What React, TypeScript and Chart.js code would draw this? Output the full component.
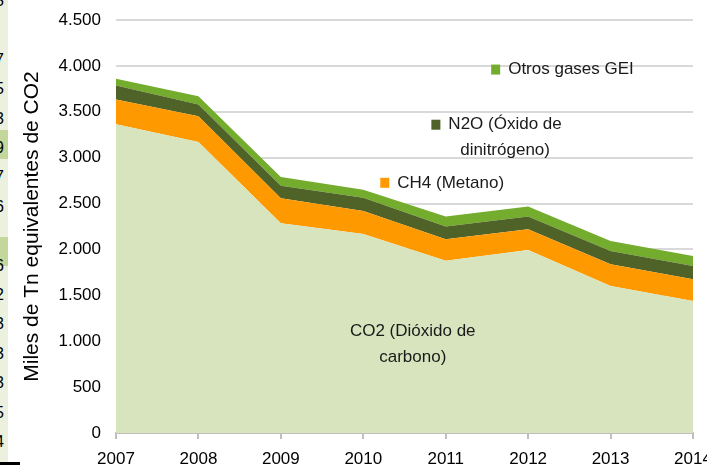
import React, { useEffect, useRef } from "react";
import { Chart, registerables } from "chart.js";

Chart.register(...registerables);

const years = ["2007", "2008", "2009", "2010", "2011", "2012", "2013", "2014"];
const co2 = [3364, 3170, 2286, 2169, 1878, 1995, 1602, 1438];
const ch4 = [270, 280, 273, 251, 233, 225, 236, 237];
const n2o = [151, 128, 134, 142, 138, 138, 146, 145];
const otros = [76, 90, 95, 88, 109, 109, 109, 109];

const yTitle = "Miles de Tn equivalentes de CO2";
const FONT = "'Liberation Sans', Arial, sans-serif";

// in-chart series labels: anchor in data coordinates (category index, value)
const seriesLabels = [
  { lines: ["Otros gases GEI"], x: 5.52, y: 3960, color: "#74ad2d" },
  { lines: ["N2O (Óxido de", "dinitrógeno)"], x: 4.72, y: 3359, color: "#4f6228" },
  { lines: ["CH4 (Metano)"], x: 4.06, y: 2726, color: "#ff9900" },
  { lines: ["CO2 (Dióxido de", "carbono)"], x: 3.6, y: 1110, color: null },
];

const stripDigits = ["5", "", "7", "5", "3", "9", "7", "6", "", "6", "2", "3", "3", "3", "5", "4"];

const labelPlugin = {
  id: "seriesLabels",
  afterDatasetsDraw(chart: any) {
    const { ctx, scales } = chart;
    const xs = scales.x;
    const ys = scales.y;
    ctx.save();
    ctx.font = `17px ${FONT}`;
    ctx.textAlign = "center";
    ctx.textBaseline = "middle";
    for (const lab of seriesLabels) {
      const cx = xs.getPixelForValue(lab.x);
      const cy = ys.getPixelForValue(lab.y);
      ctx.fillStyle = "#1a1a1a";
      lab.lines.forEach((l, i) => ctx.fillText(l, cx, cy + i * 26));
      if (lab.color) {
        const w = ctx.measureText(lab.lines[0]).width;
        ctx.fillStyle = lab.color;
        ctx.fillRect(cx - w / 2 - 17, cy - 5, 9, 10);
      }
    }
    ctx.restore();
  },
};

export default function App() {
  const ref = useRef<HTMLCanvasElement>(null);
  useEffect(() => {
    document.body.style.margin = "0";
    const chart = new Chart(ref.current!, {
      type: "line",
      data: {
        labels: years,
        datasets: [
          { label: "CO2 (Dióxido de carbono)", data: co2, backgroundColor: "#d7e4bd", fill: "origin" },
          { label: "CH4 (Metano)", data: ch4, backgroundColor: "#ff9900", fill: "-1" },
          { label: "N2O (Óxido de dinitrógeno)", data: n2o, backgroundColor: "#4f6228", fill: "-1" },
          { label: "Otros gases GEI", data: otros, backgroundColor: "#74ad2d", fill: "-1" },
        ].map((d) => ({ ...d, borderWidth: 0, pointRadius: 0, tension: 0, borderColor: d.backgroundColor })),
      },
      options: {
        responsive: false,
        animation: false,
        layout: { autoPadding: false, padding: { top: 20, right: 14, left: 0, bottom: 0 } },
        plugins: { legend: { display: false }, tooltip: { enabled: false } },
        scales: {
          x: {
            offset: false,
            grid: { drawOnChartArea: false, drawTicks: true, tickLength: 6, color: "#bfbfbf", lineWidth: 2 },
            border: { color: "#bfbfbf", width: 2 },
            ticks: { font: { family: FONT, size: 17 }, color: "#000", padding: 10, maxRotation: 0, autoSkip: false },
            afterFit: (s: any) => { s.height = 34; s.paddingLeft = 0; s.paddingRight = 0; },
          },
          y: {
            stacked: true,
            min: 0,
            max: 4500,
            ticks: {
              stepSize: 500,
              font: { family: FONT, size: 17 },
              color: "#000",
              padding: 15,
              callback: (v: any) => Number(v).toLocaleString("de-DE"),
            },
            grid: { color: "#d9d9d9", lineWidth: 2, drawTicks: false },
            border: { display: false },
            title: { display: true, text: yTitle, font: { family: FONT, size: 21 }, color: "#000", padding: { top: 20, bottom: 0 } },
            afterFit: (s: any) => { s.width = 116; s.paddingTop = 0; s.paddingBottom = 0; },
          },
        },
      },
      plugins: [labelPlugin],
    });
    return () => chart.destroy();
  }, []);
  return (
    <div style={{ position: "absolute", left: 0, top: 0, width: 707, height: 467, background: "#fff", overflow: "hidden" }}>
      <canvas ref={ref} width={707} height={467} style={{ display: "block" }} />
      <div style={{ position: "absolute", left: 0, top: 0, width: 8, height: 462, background: "#ebf1de", overflow: "hidden" }}>
        <div style={{ position: "absolute", left: 0, top: 130, width: 8, height: 29, background: "#c4d79b" }} />
        <div style={{ position: "absolute", left: 0, top: 237, width: 8, height: 29, background: "#c4d79b" }} />
        {stripDigits.map((d, i) => (
          <div key={i} style={{ position: "absolute", left: -5, top: -8 + i * 29.4, font: `16px ${FONT}`, color: "#000" }}>{d}</div>
        ))}
      </div>
      <div style={{ position: "absolute", left: 0, top: 462, width: 20, height: 3, background: "#000" }} />
    </div>
  );
}
